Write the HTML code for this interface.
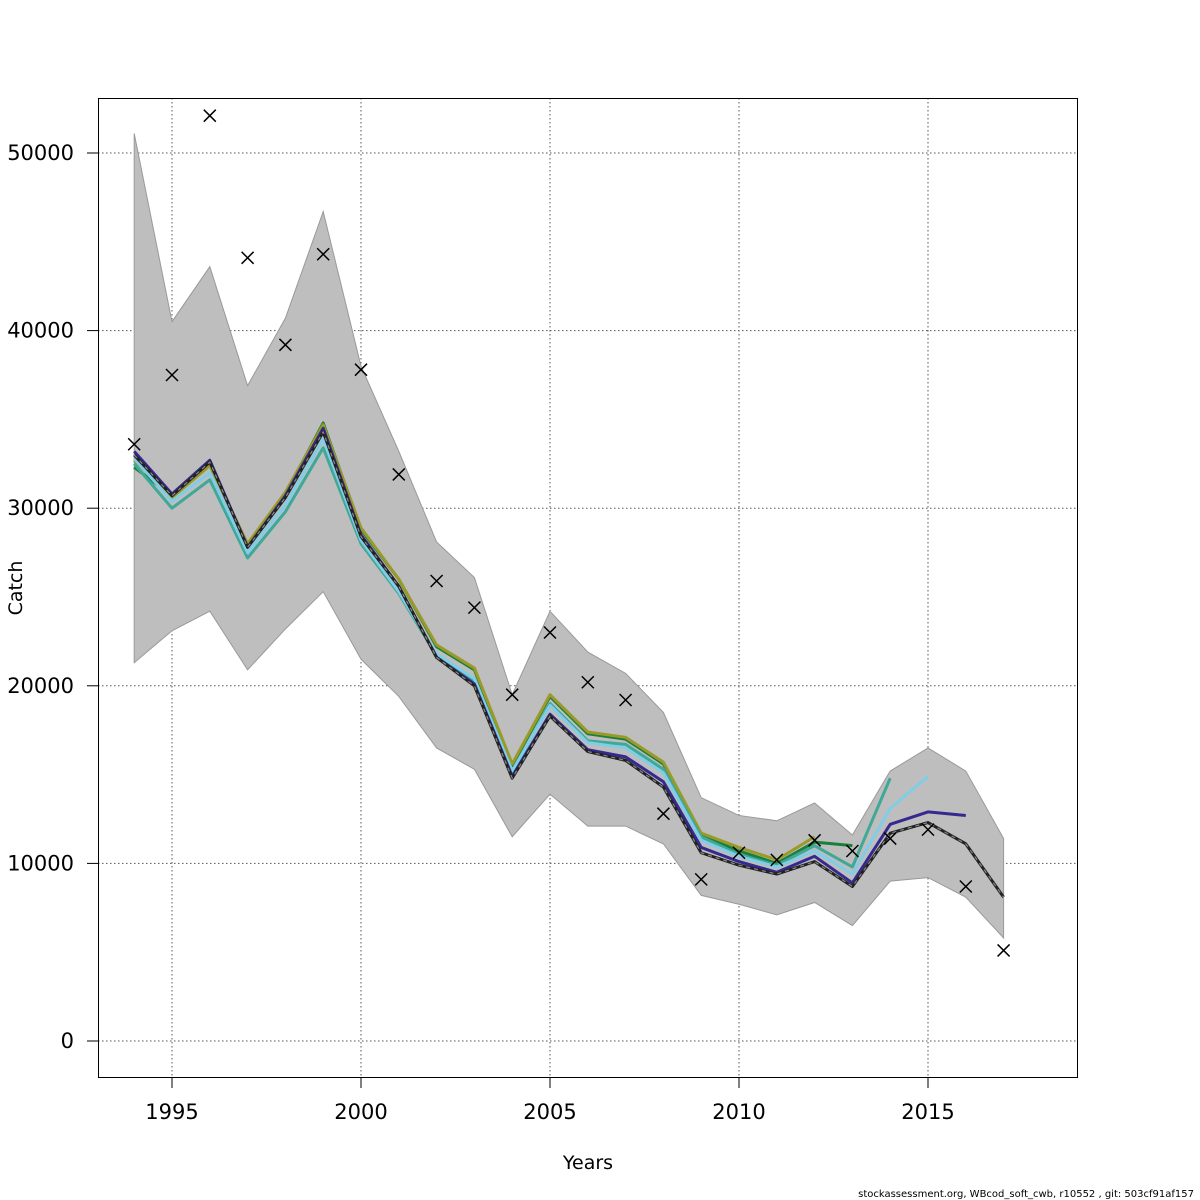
<!DOCTYPE html>
<html><head><meta charset="utf-8"><style>
body{margin:0;background:#fff;}
svg{display:block;font-family:"DejaVu Sans","Liberation Sans",sans-serif;}
</style></head><body>
<svg id="chart" width="1200" height="1200" xmlns="http://www.w3.org/2000/svg">
<rect x="0" y="0" width="1200" height="1200" fill="#fff"/>
<g id="grid"></g>
<g id="band"></g>
<g id="lines"></g>
<g id="obs"></g>
<g id="axes"></g>
<rect x="98.5" y="98.5" width="979" height="979" fill="none" stroke="#000" stroke-width="1"/>
<text x="588" y="1169" font-size="19" text-anchor="middle">Years</text>
<text x="22" y="588" font-size="19" text-anchor="middle" transform="rotate(-90 22 588)">Catch</text>
<text x="1194" y="1197" font-size="10" text-anchor="end">stockassessment.org, WBcod_soft_cwb, r10552 , git: 503cf91af157</text>
</svg>
<script>
const years=[1994,1995,1996,1997,1998,1999,2000,2001,2002,2003,2004,2005,2006,2007,2008,2009,2010,2011,2012,2013,2014,2015,2016,2017];
const upper=[51100,40500,43600,36900,40700,46700,38000,33200,28100,26100,19500,24200,21900,20700,18500,13700,12700,12400,13400,11600,15200,16500,15200,11400];
const lower=[21300,23100,24200,20900,23200,25300,21500,19400,16500,15300,11500,13900,12100,12100,11100,8200,7700,7100,7800,6500,9000,9200,8100,5800];
const observed=[33600,37500,52100,44100,39200,44300,37800,31900,25900,24400,19500,23000,20200,19200,12800,9100,10600,10200,11300,10700,11400,11900,8700,5100];
const baseRun=[33000,30700,32600,27800,30600,34300,28400,25600,21600,20000,14800,18300,16300,15800,14300,10600,9900,9400,10100,8700,11700,12300,11100,8100];
const retro2016=[33200,30800,32700,27800,30700,34500,28500,25600,21600,20100,14900,18400,16400,16000,14600,10900,10100,9500,10400,8900,12200,12900,12700];
const retro2015=[32800,30400,32000,27500,30200,33900,28200,25300,21800,20400,15200,18900,16800,16500,15100,11300,10400,9800,10700,9400,13100,14900];
const retro2014=[32500,30000,31600,27200,29800,33400,28000,25200,21700,20300,15100,19000,16900,16700,15300,11500,10500,9900,11000,9800,14800];
const retro2013=[32300,30700,32500,27900,30800,34800,28800,26000,22200,20900,15500,19400,17300,17000,15600,11600,10700,10000,11200,11000];
const retro2012=[32700,30600,32400,28000,30900,34700,28900,26000,22300,21000,15600,19500,17400,17100,15700,11700,10900,10200,11500];
const xTicks=[1995,2000,2005,2010,2015];
const yTicks=[0,10000,20000,30000,40000,50000];

const NS="http://www.w3.org/2000/svg";
const X=y=>172+(y-1995)*37.8;
const Y=v=>1041-v*0.01776;
function mk(tag,attrs,parent){const e=document.createElementNS(NS,tag);for(const k in attrs)e.setAttribute(k,attrs[k]);parent.appendChild(e);return e;}
const grid=document.getElementById('grid'),axes=document.getElementById('axes');
xTicks.forEach(t=>{
  const l=mk('line',{x1:X(t),x2:X(t),y1:98,y2:1077,stroke:'#555','stroke-dasharray':'1.5,2.5','stroke-width':1},grid);
  
  
  const tk=mk('line',{x1:X(t),x2:X(t),y1:1077,y2:1088,stroke:'#000'},axes);
  
  
  const tx=mk('text',{x:X(t),y:1119,'font-size':21,'text-anchor':'middle'},axes);
  tx.textContent=t;
  
  
});
yTicks.forEach(t=>{
  const l=mk('line',{x1:98,x2:1077,y1:Y(t),y2:Y(t),stroke:'#555','stroke-dasharray':'1.5,2.5','stroke-width':1},grid);
  
  
  const tk=mk('line',{x1:87,x2:98,y1:Y(t),y2:Y(t),stroke:'#000'},axes);
  
  
  const tx=mk('text',{x:74,y:Y(t)+7,'font-size':21,'text-anchor':'end'},axes);
  tx.textContent=t;
  
  
});
let pts=years.map((y,i)=>X(y)+','+Y(upper[i]));
for(let i=years.length-1;i>=0;i--)pts.push(X(years[i])+','+Y(lower[i]));
const poly=mk('polygon',{points:pts.join(' '),fill:'#bebebe',stroke:'#999','stroke-width':1},document.getElementById('band'));


const lg=document.getElementById('lines');
function line(vals,color,name,w){
  const p=mk('polyline',{points:vals.map((v,i)=>X(years[i])+','+Y(v)).join(' '),fill:'none',stroke:color,'stroke-width':w||3,'stroke-linejoin':'round'},lg);
  
  
  return p;
}
line(retro2013,'#1a7f3a','retro-line-2013');
line(retro2012,'#9a9a2a','retro-line-2012');
line(retro2014,'#3fa896','retro-line-2014');
line(retro2015,'#80cde8','retro-line-2015');
line(retro2016,'#35298f','retro-line-2016');
line(baseRun,'#222','base-run-line',3);
const d=line(baseRun,'#888','base-run-dash',1.2);
d.setAttribute('stroke-dasharray','4,4');
const og=document.getElementById('obs');
years.forEach((y,i)=>{
  const cx=X(y),cy=Y(observed[i]),s=6;
  const p=mk('path',{d:`M${cx-s},${cy-s}L${cx+s},${cy+s}M${cx-s},${cy+s}L${cx+s},${cy-s}`,stroke:'#000','stroke-width':1.5,fill:'none'},og);
  
  
});
</script>
</body></html>
